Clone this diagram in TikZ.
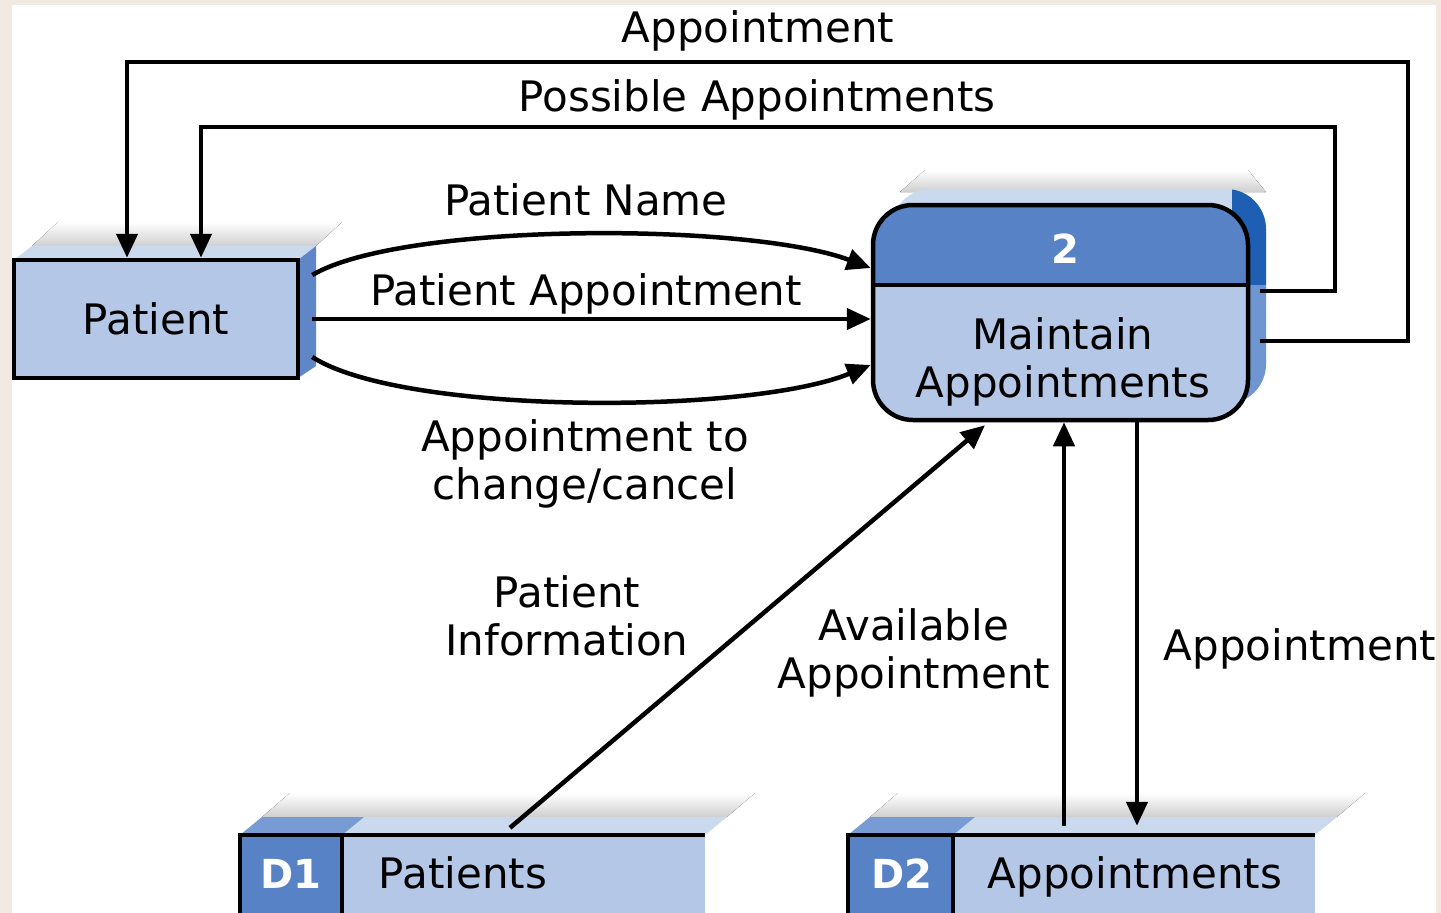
\documentclass[tikz,border=0pt]{standalone}
\usepackage{fontspec}
\setmainfont{DejaVu Sans}
\usetikzlibrary{arrows.meta,calc}
\definecolor{bgbeige}{RGB}{240,234,226}
\definecolor{bodyblue}{RGB}{180,199,231}
\definecolor{hdrblue}{RGB}{88,130,198}
\definecolor{topface}{RGB}{203,217,239}
\definecolor{sideface}{RGB}{95,135,200}
\definecolor{procdark}{RGB}{30,95,180}
\definecolor{procside}{RGB}{112,150,210}
\definecolor{topdark}{RGB}{120,155,212}
\begin{document}
\begin{tikzpicture}[x=1pt,y=-1pt,
  lbl/.style={font=\fontsize{42}{48}\selectfont, inner sep=0pt, align=center},
  whitelbl/.style={font=\bfseries\fontsize{40}{48}\selectfont, inner sep=0pt, text=white},
  flow/.style={line width=4.5pt, -{Triangle[length=24pt,width=21pt]}},
  plain/.style={line width=4.5pt},
  shadowfade/.style={top color=white, bottom color=gray!38}
]
% background
\fill[bgbeige] (0,0) rectangle (1441,913);
\fill[white] (12,5) rectangle (1436,913);
\useasboundingbox (0,0) rectangle (1441,913);

% ---------- Patient (external entity) ----------
\fill[shadowfade] (32,246) -- (58,222) -- (342,222) -- (316,246) -- cycle;
\fill[topface] (14,260) -- (32,246) -- (316,246) -- (298,260) -- cycle;
\fill[sideface] (298,260) -- (316,246) -- (316,366) -- (298,378) -- cycle;
\node[draw, line width=4.5pt, fill=bodyblue, minimum width=284pt, minimum height=118pt,
      inner sep=0pt, font=\fontsize{42}{48}\selectfont] (patient) at (156,319) {Patient};

% ---------- Process 2 ----------
\fill[shadowfade] (900,192) -- (925,170) -- (1248,170) -- (1266,192) -- cycle;
\fill[topface, rounded corners=40pt] (891,189) rectangle (1266,404);
\begin{scope}
  \clip[rounded corners=40pt] (891,189) rectangle (1266,404);
  \fill[procdark] (1232,180) rectangle (1270,285);
  \fill[procside] (1232,285) rectangle (1270,410);
\end{scope}
\node[draw, line width=4.5pt, rounded corners=40pt, fill=bodyblue,
      minimum width=375pt, minimum height=215pt, inner sep=0pt,
      path picture={
        \fill[hdrblue, sharp corners] (path picture bounding box.north west) rectangle ([yshift=-80pt]path picture bounding box.north east);
        \draw[line width=4.5pt, sharp corners] ([yshift=-80pt]path picture bounding box.north west) -- ([yshift=-80pt]path picture bounding box.north east);
      }] (proc) at (1060.5,312.5) {};
\node[whitelbl, anchor=base] (pnum) at (1065,263) {2};
\node[lbl] (pname) at (1063,362) {Maintain\\Appointments};

% ---------- Data store D1 ----------
\fill[shadowfade] (262,817) -- (290,793) -- (755,793) -- (727,817) -- cycle;
\fill[topface] (240,835) -- (262,817) -- (727,817) -- (705,835) -- cycle;
\fill[topdark] (240,835) -- (262,817) -- (364,817) -- (342,835) -- cycle;
\fill[hdrblue] (240,835) rectangle (342,913);
\fill[bodyblue] (342,835) rectangle (705,913);
\draw[plain] (240,915) -- (240,835) -- (705,835);
\draw[plain] (342,835) -- (342,915);
\node[inner sep=0pt, minimum width=465pt, minimum height=78pt] (d1) at (472.5,874) {};
\node[whitelbl, anchor=base] (d1id) at (291,888) {D1};
\node[lbl, anchor=base] (d1name) at (463,888) {Patients};

% ---------- Data store D2 ----------
\fill[shadowfade] (870,817) -- (898,793) -- (1365,793) -- (1337,817) -- cycle;
\fill[topface] (848,835) -- (870,817) -- (1337,817) -- (1315,835) -- cycle;
\fill[topdark] (848,835) -- (870,817) -- (975,817) -- (953,835) -- cycle;
\fill[hdrblue] (848,835) rectangle (953,913);
\fill[bodyblue] (953,835) rectangle (1315,913);
\draw[plain] (848,915) -- (848,835) -- (1315,835);
\draw[plain] (953,835) -- (953,915);
\node[inner sep=0pt, minimum width=467pt, minimum height=78pt] (d2) at (1081.5,874) {};
\node[whitelbl, anchor=base] (d2id) at (902,888) {D2};
\node[lbl, anchor=base] (d2name) at (1135,888) {Appointments};

% ---------- connectors ----------
\coordinate (c1) at (1408,62);
\coordinate (c2) at (1335,127);
\draw[flow] ([xshift=10pt,yshift=-28.5pt]proc.east) -| (c1) -| ([xshift=-29pt]patient.north);
\draw[flow] ([xshift=10pt,yshift=21.5pt]proc.east) -| (c2) -| ([xshift=45pt]patient.north);

\draw[flow] ([xshift=12pt,yshift=44pt]patient.east) .. controls +(90,-53) and +(-123,-46) .. ([yshift=44.5pt]proc.west);
\draw[flow] ([xshift=12pt]patient.east) -- (patient.east -| proc.west);
\draw[flow] ([xshift=12pt,yshift=-38pt]patient.east) .. controls +(90,58) and +(-123,50) .. ([yshift=-52.5pt]proc.west);

\draw[flow] ([xshift=37.5pt,yshift=7pt]d1.north) -- ([xshift=-75.5pt,yshift=-3pt]proc.south);

\coordinate (pa) at ([xshift=-17.5pt,yshift=9pt]d2.north);
\coordinate (pb) at ([xshift=55.5pt,yshift=9pt]d2.north);
\draw[flow] (pa) -- (pa |- proc.south);
\draw[flow] (pb |- proc.south) -- (pb);

% ---------- labels ----------
\node[lbl, anchor=base] (l1) at (758,42) {Appointment};
\node[lbl, anchor=base] (l2) at (757,111) {Possible Appointments};
\node[lbl, anchor=base] (l3) at (586,215) {Patient Name};
\node[lbl, anchor=base] (l4) at (586,305) {Patient Appointment};
\node[lbl] (l5) at (585,464) {Appointment to\\change/cancel};
\node[lbl] (l6) at (567,616) {Patient\\Information};
\node[lbl] (l7) at (914,653) {Available\\Appointment};
\node[lbl, anchor=base] (l8) at (1300,660) {Appointment};
\end{tikzpicture}
\end{document}
